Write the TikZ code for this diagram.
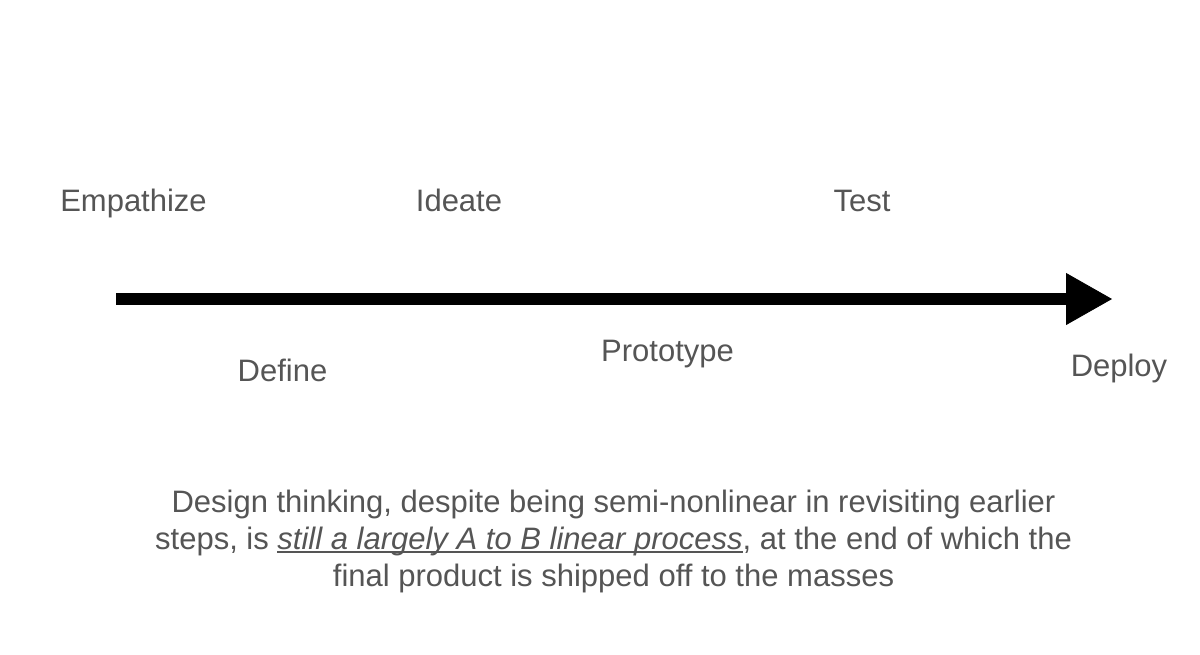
\documentclass[tikz,border=0pt]{standalone}
\usepackage{fontspec}
\setmainfont{Liberation Sans}
\usetikzlibrary{arrows.meta}
\definecolor{txtgray}{RGB}{85,85,85}
\newcommand{\myuline}[1]{\setbox0=\hbox{#1}\leavevmode\rlap{\rule[-4pt]{\wd0}{1.6pt}}\box0}
\tikzset{
  lbl/.style={anchor=base, inner sep=0pt, text=txtgray, font=\fontsize{31}{37}\selectfont},
  caption/.style={lbl, align=center},
  mainarrow/.style={line width=12pt, draw=black, -{Triangle[length=46pt,width=52pt,line width=0.8pt]}}
}
\begin{document}
\begin{tikzpicture}[x=1pt,y=-1pt]
\useasboundingbox[fill=white] (0,0) rectangle (1200,654);
\coordinate (start) at (116,299);
\coordinate (end) at (1112,299);
\draw[mainarrow] (start) -- (end);
\node[lbl] (empathize) at (133.5,211) {Empathize};
\node[lbl] (ideate) at (459,211) {Ideate};
\node[lbl] (test) at (862,211) {Test};
\node[lbl] (define) at (282.5,381) {Define};
\node[lbl] (prototype) at (667.5,361) {Prototype};
\node[lbl] (deploy) at (1119,376) {Deploy};
\node[caption] (caption) at (613.5,586) {Design thinking, despite being semi-nonlinear in revisiting earlier\\
steps, is \myuline{\textit{still a largely A to B linear process}}, at the end of which the\\
final product is shipped off to the masses};
\end{tikzpicture}
\end{document}
